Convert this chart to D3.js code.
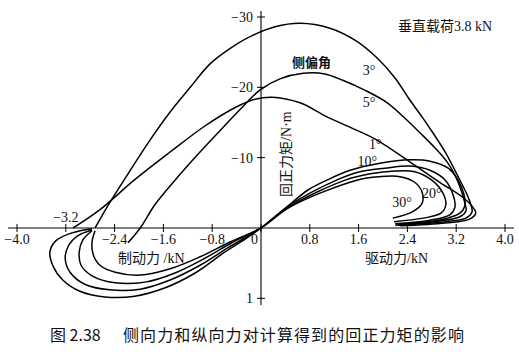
<!DOCTYPE html>
<html>
<head>
<meta charset="utf-8">
<title>回正力矩</title>
<style>
  body { margin: 0; background: #fff; }
  svg { display: block; }
  text { fill: #111; }
</style>
</head>
<body>
<script src="https://cdn.jsdelivr.net/npm/d3@7/dist/d3.min.js"></script>
<script>

// axis ticks
var fxTicks  = [-4, -3.2, -2.4, -1.6, -0.8, 0, 0.8, 1.6, 2.4, 3.2, 4];
var fxLabels = ["−4.0", "−3.2", "−2.4", "−1.6", "−0.8", "0", "0.8", "1.6", "2.4", "3.2", "4.0"];
var mzTicks  = [-30, -20, -10, 10];
var mzLabels = ["−30", "−20", "−10", "1"];

// curves: [longitudinal force kN, aligning torque N·m]
var slip1 = [[-3.08,0],[-2.64,-2.6],[-2.08,-6.8],[-1.49,-10.8],[-0.92,-14.5],[-0.43,-17.1],[-0.10,-18.3],
  [0.18,-18.6],[0.64,-17.8],[1.08,-15.8],[1.49,-14.2],[1.90,-12.5],[2.44,-9.4],[2.93,-6.5],[3.30,-4.4],
  [3.46,-3.1],[3.52,-2.1],[3.43,-1.3],[3.02,-0.7],[2.28,-0.3]];

var slip3 = [[-2.72,0],[-2.48,-3.6],[-2.18,-7.7],[-1.82,-12.5],[-1.49,-16.5],[-1.16,-20.0],[-0.84,-23.3],
  [-0.51,-25.5],[-0.18,-27.2],[0.23,-28.6],[0.64,-29.1],[1.13,-28.4],[1.54,-26.7],[1.90,-24.2],[2.20,-21.3],
  [2.44,-18.2],[2.64,-15.8],[2.82,-13.5],[3.02,-10.8],[3.15,-8.7],[3.26,-6.8],[3.38,-4.7],[3.44,-3.3],
  [3.46,-2.3],[3.36,-1.4],[3.02,-0.9],[2.25,-0.4]];

var slip5 = [[-2.18,2.1],[-1.98,0],[-1.74,-3.3],[-1.41,-6.8],[-1.00,-10.8],[-0.59,-14.6],[-0.26,-17.6],
  [-0.02,-19.6],[0.31,-21.2],[0.69,-22.0],[1.05,-21.9],[1.34,-21.0],[1.70,-19.6],[2.07,-17.8],[2.36,-15.6],
  [2.61,-13.5],[2.85,-11.4],[3.05,-9.4],[3.18,-7.5],[3.28,-5.4],[3.34,-3.6],[3.36,-2.4],[3.26,-1.6],
  [2.93,-1.0],[2.23,-0.6]];

var slip10 = [[-2.77,0.1],[-3.10,0.7],[-3.36,1.8],[-3.46,3.4],[-3.41,5.4],[-3.25,7.4],[-2.97,9.0],[-2.56,9.8],
  [-2.07,9.7],[-1.57,8.5],[-1.08,6.4],[-0.59,3.4],[-0.26,1.6],[0,0],[0.48,-3.4],[0.77,-5.4],[1.08,-6.8],
  [1.46,-8.2],[1.95,-9.2],[2.44,-9.7],[2.77,-9.5],[3.07,-8.5],[3.23,-6.8],[3.33,-4.7],[3.34,-3.1],
  [3.26,-2.1],[3.02,-1.3],[2.61,-0.7],[2.20,-0.4]];

var slip15 = [[-2.77,0.3],[-3.00,1.1],[-3.16,2.6],[-3.21,4.3],[-3.13,6.3],[-2.89,8.0],[-2.48,8.8],[-1.98,8.7],
  [-1.49,7.4],[-1.00,5.3],[-0.54,2.8],[0,0],[0.48,-3.3],[1.21,-6.7],[1.62,-8.0],[2.03,-8.5],[2.44,-8.8],
  [2.77,-8.2],[3.02,-6.8],[3.15,-4.7],[3.18,-3.0],[3.10,-1.9],[2.77,-1.1],[2.20,-0.6]];

var slip20 = [[-2.77,0.4],[-2.92,1.7],[-2.98,3.4],[-2.95,5.3],[-2.77,6.8],[-2.39,7.8],[-1.90,7.7],[-1.41,6.4],
  [-0.92,4.3],[-0.48,2.1],[0,0],[0.48,-3.1],[1.38,-6.8],[1.79,-7.7],[2.20,-8.1],[2.52,-8.0],[2.80,-6.8],
  [2.98,-5.0],[3.03,-3.3],[2.95,-2.1],[2.66,-1.4],[2.18,-0.9]];

var slip30 = [[-2.72,0.4],[-2.77,2.0],[-2.75,3.8],[-2.64,5.3],[-2.39,6.3],[-1.98,6.7],[-1.49,5.8],[-1.00,4.1],
  [-0.51,2.0],[0,0],[0.48,-3.0],[1.57,-6.8],[1.95,-7.3],[2.28,-7.3],[2.52,-6.5],[2.64,-5.1],[2.64,-3.5],
  [2.48,-2.3],[2.16,-1.4]];

var series = [slip1, slip3, slip5, slip10, slip15, slip20, slip30];

// curve labels: text and where it sits (kN, N·m)
var curveLabels = [
  {text: "3°",  fx: 1.67, mz: -21.8},
  {text: "5°",  fx: 1.67, mz: -17.2},
  {text: "1°",  fx: 1.77, mz: -11.2},
  {text: "10°", fx: 1.58, mz: -8.8},
  {text: "20°", fx: 2.64, mz: -4.3},
  {text: "30°", fx: 2.15, mz: -3.0}
];

var W = 519, H = 362;

var svg = d3.select("body").append("svg")
  .attr("width", W)
  .attr("height", H);

var x = d3.scaleLinear().domain([-4, 4]).range([17, 505]);
var y = d3.scaleLinear().domain([-30, 10]).range([17, 298.3]);

var serif = "'Liberation Serif', 'Noto Sans CJK SC', serif";
var cjk = "'Noto Sans CJK SC', sans-serif";

//axes lines
svg.append("line")
  .attr("x1", 8).attr("x2", 514)
  .attr("y1", y(0)).attr("y2", y(0))
  .attr("stroke", "#000").attr("stroke-width", 1.1);

svg.append("line")
  .attr("x1", x(0)).attr("x2", x(0))
  .attr("y1", 11).attr("y2", 305)
  .attr("stroke", "#000").attr("stroke-width", 1.1);

//x ticks cross the axis
svg.selectAll("line.xtick")
  .data(fxTicks)
  .enter()
  .append("line")
  .attr("class", "xtick")
  .attr("x1", function(d){ return x(d); })
  .attr("x2", function(d){ return x(d); })
  .attr("y1", y(0) - 4)
  .attr("y2", y(0) + 4)
  .attr("stroke", "#000");

svg.selectAll("text.xlab")
  .data(fxTicks)
  .enter()
  .append("text")
  .attr("class", "xlab")
  .attr("x", function(d){ return d === 0 ? x(d) - 3 : x(d); })
  .attr("y", function(d){ return d === -3.2 ? y(0) - 6 : y(0) + 16; })
  .attr("text-anchor", function(d){ return d === 0 ? "end" : "middle"; })
  .style("font-family", serif)
  .style("font-size", "14px")
  .text(function(d, i){ return fxLabels[i]; });

svg.selectAll("line.ytick")
  .data(mzTicks)
  .enter()
  .append("line")
  .attr("class", "ytick")
  .attr("x1", x(0) - 4)
  .attr("x2", x(0) + 4)
  .attr("y1", function(d){ return y(d); })
  .attr("y2", function(d){ return y(d); })
  .attr("stroke", "#000");

svg.selectAll("text.ylab")
  .data(mzTicks)
  .enter()
  .append("text")
  .attr("class", "ylab")
  .attr("x", x(0) - 8)
  .attr("y", function(d){ return y(d) + 5; })
  .attr("text-anchor", "end")
  .style("font-family", serif)
  .style("font-size", "14px")
  .text(function(d, i){ return mzLabels[i]; });

//curves
var line = d3.line()
  .x(function(d){ return x(d[0]); })
  .y(function(d){ return y(d[1]); })
  .curve(d3.curveCatmullRom.alpha(0.5));

svg.selectAll("path.curve")
  .data(series)
  .enter()
  .append("path")
  .attr("class", "curve")
  .attr("d", line)
  .attr("fill", "none")
  .attr("stroke", "#000")
  .attr("stroke-width", 1.5)
  .attr("stroke-linejoin", "round");

svg.selectAll("text.clab")
  .data(curveLabels)
  .enter()
  .append("text")
  .attr("class", "clab")
  .attr("x", function(d){ return x(d.fx); })
  .attr("y", function(d){ return y(d.mz); })
  .style("font-family", serif)
  .style("font-size", "14px")
  .text(function(d){ return d.text; });

//annotations
svg.append("text")
  .attr("x", 398).attr("y", 31)
  .style("font-family", serif)
  .style("font-size", "14px")
  .text("垂直载荷3.8 kN");

svg.append("text")
  .attr("x", 292).attr("y", 67)
  .style("font-family", cjk)
  .style("font-size", "13px")
  .style("font-weight", "bold")
  .text("侧偏角");

svg.append("text")
  .attr("transform", "translate(291,197) rotate(-90)")
  .style("font-family", serif)
  .style("font-size", "14px")
  .text("回正力矩/N·m");

svg.append("text")
  .attr("x", 118).attr("y", 263)
  .style("font-family", serif)
  .style("font-size", "14px")
  .text("制动力 /kN");

svg.append("text")
  .attr("x", 365).attr("y", 263)
  .style("font-family", serif)
  .style("font-size", "14px")
  .text("驱动力/kN");

//caption
svg.append("text")
  .attr("x", 50).attr("y", 341)
  .style("font-family", cjk)
  .style("font-size", "16px")
  .text("图 2.38");

svg.append("text")
  .attr("x", 123).attr("y", 341)
  .style("font-family", cjk)
  .style("font-size", "16px")
  .style("letter-spacing", "1.1px")
  .text("侧向力和纵向力对计算得到的回正力矩的影响");

</script>
</body>
</html>
